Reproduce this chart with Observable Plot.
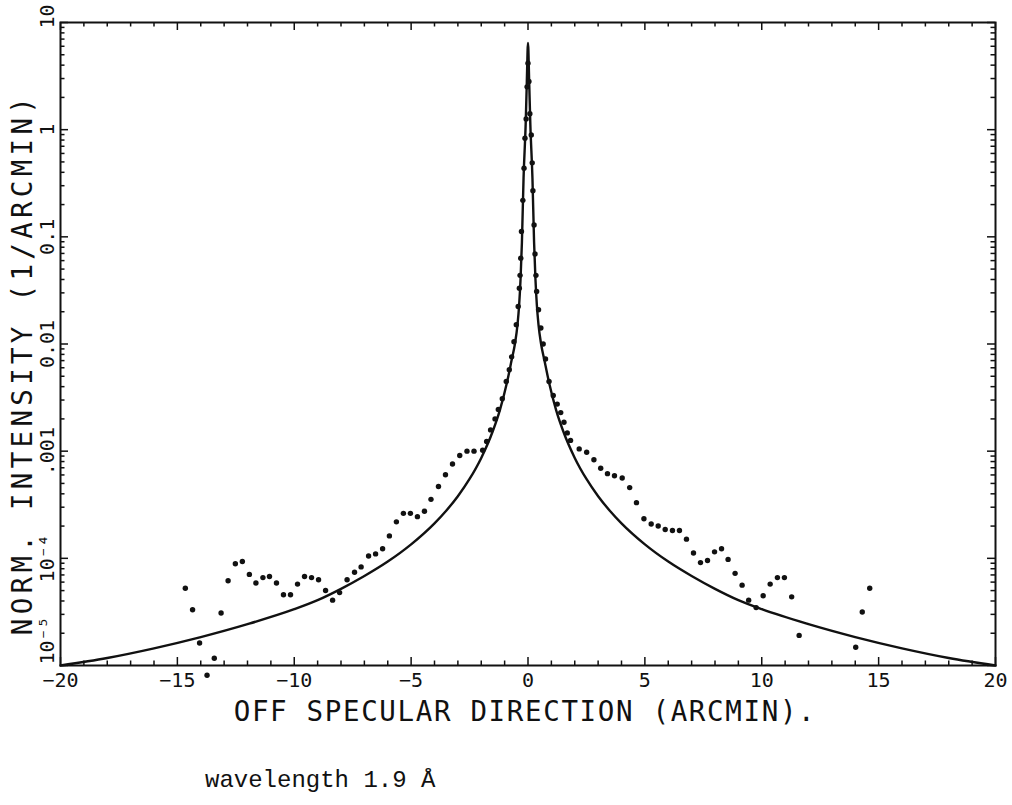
<!DOCTYPE html>
<html>
<head>
<meta charset="utf-8">
<script src="https://cdn.jsdelivr.net/npm/d3@7"></script>
<script src="https://cdn.jsdelivr.net/npm/@observablehq/plot@0.6"></script>
<style>
  html, body { margin: 0; padding: 0; background: #fff; overflow: hidden; }
  #chart svg { display: block; }
  #caption {
    font-family: "Liberation Mono", "DejaVu Sans Mono", monospace;
    font-size: 24px; line-height: 1; color: #111;
    margin-left: 205px; margin-top: 24px; white-space: pre;
  }
</style>
</head>
<body>
<div id="chart"></div>
<div id="caption"></div>
<script>
// ---- data ----
const xTitle = "OFF SPECULAR DIRECTION (ARCMIN).";
const yTitle = "NORM. INTENSITY (1/ARCMIN)";
const caption = "wavelength 1.9 Å";

const xTickValues = [-20, -15, -10, -5, 0, 5, 10, 15, 20];
const xTickLabels = ["−20", "−15", "−10", "−5", "0", "5", "10", "15", "20"];
const yTickValues = [10, 1, 0.1, 0.01, 0.001, 1e-4, 1e-5];
const yTickLabels = ["10", "1", "0.1", "0.01", ".001", "10⁻⁴", "10⁻⁵"];

// model curve (solid line)
const curveX = [-20, -18, -16, -14, -12, -10, -9, -8, -7, -6, -5, -4, -3.5, -3, -2.5, -2, -1.5, -1.2, -0.9, -0.7, -0.56, -0.45, -0.38, -0.32, -0.26, -0.19, -0.1, -0.05,
  0,
  0.05, 0.1, 0.19, 0.26, 0.32, 0.38, 0.45, 0.56, 0.7, 0.9, 1.2, 1.5, 2, 2.5, 3, 3.5, 4, 5, 6, 7, 8, 9, 10, 12, 14, 16, 18, 20];
const curveY = [1.0e-5, 1.175e-5, 1.445e-5, 1.84e-5, 2.43e-5, 3.35e-5, 4.07e-5, 5.19e-5, 6.84e-5, 9.33e-5, 1.35e-4, 2.12e-4, 2.78e-4, 3.80e-4, 5.50e-4, 8.65e-4, 1.55e-3, 2.43e-3, 4.37e-3, 7.08e-3, 1.0e-2, 1.51e-2, 2.29e-2, 3.98e-2, 8.91e-2, 0.355, 1.12, 2.82,
  6.46,
  2.82, 1.12, 0.355, 8.91e-2, 3.98e-2, 2.29e-2, 1.51e-2, 1.0e-2, 7.08e-3, 4.37e-3, 2.43e-3, 1.55e-3, 8.65e-4, 5.50e-4, 3.80e-4, 2.78e-4, 2.12e-4, 1.35e-4, 9.33e-5, 6.84e-5, 5.19e-5, 4.07e-5, 3.35e-5, 2.43e-5, 1.84e-5, 1.445e-5, 1.175e-5, 1.0e-5];

// measured points (dots)
const dotX = [-14.66, -14.35, -14.05, -13.73, -13.42, -13.13, -12.83, -12.52, -12.22, -11.92, -11.64, -11.34, -11.06, -10.76, -10.46, -10.16, -9.86, -9.56, -9.26, -8.96, -8.66, -8.36, -8.06, -7.74, -7.42, -7.14, -6.82, -6.52, -6.22, -5.93, -5.63, -5.33, -5.03, -4.73, -4.43, -4.15, -3.83, -3.53, -3.23, -2.92, -2.61, -2.31, -1.94, -1.77, -1.6, -1.41, -1.27, -1.1, -0.93, -0.8, -0.7, -0.6, -0.5, -0.42, -0.37, -0.34, -0.31, -0.28, -0.22, -0.17, -0.13, -0.08, -0.04, 0, 0.04, 0.08,
  0.14, 0.18, 0.21, 0.26, 0.3, 0.34, 0.37, 0.45, 0.55, 0.65, 0.75, 0.9, 1.08, 1.25, 1.4, 1.54, 1.68, 1.82, 2.19, 2.51, 2.82, 3.11, 3.4, 3.7, 4.03, 4.35, 4.64, 4.96, 5.27, 5.57, 5.87, 6.18, 6.48, 6.78, 7.08, 7.38, 7.68, 7.98, 8.28, 8.56, 8.86, 9.16, 9.44, 9.76, 10.06, 10.36, 10.67, 10.97, 11.28, 11.6, 14.02, 14.3, 14.62];
const dotY = [5.25e-5, 3.31e-5, 1.62e-5, 8.1e-6, 1.17e-5, 3.09e-5, 6.17e-5, 8.91e-5, 9.33e-5, 7.08e-5, 5.89e-5, 6.61e-5, 6.76e-5, 5.89e-5, 4.57e-5, 4.57e-5, 5.75e-5, 6.76e-5, 6.61e-5, 6.31e-5, 5.01e-5, 4.07e-5, 4.79e-5, 6.31e-5, 7.41e-5, 8.32e-5, 1.05e-4, 1.10e-4, 1.23e-4, 1.62e-4, 2.19e-4, 2.63e-4, 2.63e-4, 2.45e-4, 2.75e-4, 3.55e-4, 4.68e-4, 6.03e-4, 7.59e-4, 9.12e-4, 1.0e-3, 1.0e-3, 1.02e-3, 1.23e-3, 1.58e-3, 2.0e-3, 2.45e-3, 3.09e-3, 4.47e-3, 5.75e-3, 7.59e-3, 1.05e-2, 1.51e-2, 2.24e-2, 3.31e-2, 4.37e-2, 6.31e-2, 0.112, 0.219, 0.437, 0.832, 1.26, 2.51, 4.17, 2.82, 1.41,
  0.891, 0.490, 0.269, 0.129, 0.0692, 0.0437, 0.0309, 0.0209, 0.0141, 0.01, 7.24e-3, 4.47e-3, 3.31e-3, 2.75e-3, 2.29e-3, 1.86e-3, 1.48e-3, 1.26e-3, 1.05e-3, 9.77e-4, 8.32e-4, 6.92e-4, 6.17e-4, 5.89e-4, 5.62e-4, 4.57e-4, 3.31e-4, 2.34e-4, 2.09e-4, 2.0e-4, 1.86e-4, 1.82e-4, 1.82e-4, 1.51e-4, 1.12e-4, 9.12e-5, 9.55e-5, 1.15e-4, 1.23e-4, 9.77e-5, 7.24e-5, 5.62e-5, 4.07e-5, 3.47e-5, 4.47e-5, 5.75e-5, 6.61e-5, 6.61e-5, 4.37e-5, 1.91e-5, 1.48e-5, 3.16e-5, 5.25e-5];

// ---- build ----
const W = 1012, H = 745;
const mL = 60, mR = 17, mT = 22, mB = 80;
const fw = W - mL - mR, fh = H - mT - mB;
const ink = "#111";
const mono = "DejaVu Sans Mono";

const curve = curveX.map((x, i) => ({x, y: curveY[i]}));
const dots = dotX.map((x, i) => ({x, y: dotY[i]}));
const xTicks = xTickValues.map((v, i) => ({v, label: xTickLabels[i]}));
const yTicks = yTickValues.map((v, i) => ({v, label: yTickLabels[i]}));

const xMinor = d3.range(-20, 21, 1).filter(v => v % 5 !== 0);
const yMinor = [];
for (let e = -5; e < 1; e++) for (let k = 2; k <= 9; k++) yMinor.push(k * Math.pow(10, e));

const majLen = 8, minLen = 4.5;
const tickStyle = {stroke: ink, strokeWidth: 1.5};
const yLab = {y: "v", text: "label", frameAnchor: "left", dx: -13, rotate: -90, fontSize: 20, fill: ink};

const chart = Plot.plot({
  width: W, height: H,
  marginLeft: mL, marginRight: mR, marginTop: mT, marginBottom: mB,
  style: {background: "white", color: ink, fontFamily: mono},
  x: {domain: [-20, 20], axis: null},
  y: {type: "log", domain: [1e-5, 10], axis: null},
  marks: [
    // inward ticks, bottom & top
    Plot.tickX(xTickValues, {x: d => d, insetTop: fh - majLen, ...tickStyle}),
    Plot.tickX(xMinor, {x: d => d, insetTop: fh - minLen, ...tickStyle}),
    Plot.tickX(xTickValues, {x: d => d, insetBottom: fh - majLen, ...tickStyle}),
    Plot.tickX(xMinor, {x: d => d, insetBottom: fh - minLen, ...tickStyle}),
    // inward ticks, left & right
    Plot.tickY(yTickValues, {y: d => d, insetRight: fw - majLen, ...tickStyle}),
    Plot.tickY(yMinor, {y: d => d, insetRight: fw - minLen, ...tickStyle}),
    Plot.tickY(yTickValues, {y: d => d, insetLeft: fw - majLen, ...tickStyle}),
    Plot.tickY(yMinor, {y: d => d, insetLeft: fw - minLen, ...tickStyle}),
    Plot.frame({stroke: ink, strokeWidth: 2}),
    // model curve
    Plot.line(curve, {x: "x", y: "y", curve: "monotone-x", stroke: ink, strokeWidth: 2.4}),
    // data points
    Plot.dot(dots, {x: "x", y: "y", r: 2.7, fill: ink, stroke: "none"}),
    // x tick labels
    Plot.text(xTicks, {x: "v", text: "label", frameAnchor: "bottom", dy: 21, fontSize: 20, fill: ink}),
    // y tick labels (rotated)
    Plot.text(yTicks.filter(d => d.v > 1e-5 && d.v < 10), {...yLab, textAnchor: "middle"}),
    Plot.text(yTicks.filter(d => d.v === 10), {...yLab, dy: -6, textAnchor: "middle"}),
    Plot.text(yTicks.filter(d => d.v === 1e-5), {...yLab, dy: -1, textAnchor: "start"}),
    // axis titles
    Plot.text([xTitle], {text: d => d, frameAnchor: "bottom", textAnchor: "middle", dx: -3, dy: 55, fontSize: 27.5, fill: ink}),
    Plot.text([yTitle], {text: d => d, frameAnchor: "left", textAnchor: "middle", dx: -37, dy: 20, rotate: -90, fontSize: 27.5, fill: ink})
  ]
});

// spread the axis-title letters like the plotter lettering of the original
d3.select(chart).selectAll("text")
  .filter(function() { return this.textContent === xTitle; })
  .style("letter-spacing", "1.65px");
d3.select(chart).selectAll("text")
  .filter(function() { return this.textContent === yTitle; })
  .style("letter-spacing", "4.3px");

document.getElementById("chart").appendChild(chart);
document.getElementById("caption").textContent = caption;
</script>
</body>
</html>
